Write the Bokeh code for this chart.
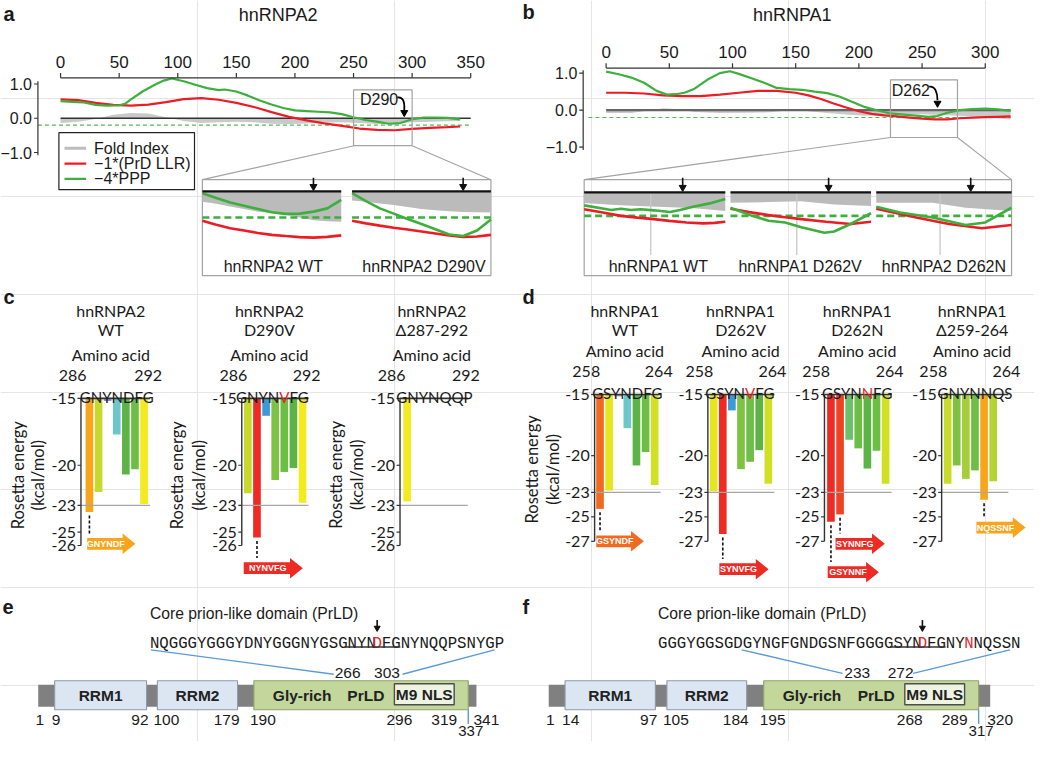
import numpy as np
from math import pi
from bokeh.plotting import figure
from bokeh.models import Range1d
from bokeh.core.properties import value
from bokeh.embed import file_html
from bokeh.resources import INLINE

# ============================ DATA ============================
# ---- a : hnRNPA2 whole-protein profiles (residue, score) ----
A2_XTICKS = [0, 50, 100, 150, 200, 250, 300, 350]
A2_FOLD_POS = [0, 15, 30, 45, 60, 75, 90, 105, 120, 135, 150, 165, 180, 195, 210, 225, 240, 255, 270, 285, 300, 315, 330, 341]
A2_FOLD_VAL = [-0.14, -0.10, -0.02, 0.10, 0.15, 0.14, 0.03, -0.08, -0.14, -0.12, -0.10, -0.12, -0.16, -0.17, -0.15, -0.13, -0.12, -0.14, -0.17, -0.16, -0.12, -0.10, -0.09, -0.08]
A2_LLR_POS = [0, 15, 30, 45, 60, 75, 90, 105, 120, 135, 150, 165, 180, 195, 210, 225, 240, 255, 270, 285, 300, 315, 330, 341]
A2_LLR_VAL = [0.55, 0.53, 0.45, 0.39, 0.37, 0.40, 0.47, 0.56, 0.59, 0.54, 0.45, 0.33, 0.18, 0.04, -0.06, -0.15, -0.22, -0.30, -0.34, -0.35, -0.31, -0.28, -0.26, -0.24]
A2_PPP_POS = [0, 10, 20, 30, 40, 50, 55, 60, 70, 80, 88, 95, 105, 115, 125, 135, 140, 150, 160, 170, 180, 190, 200, 210, 220, 230, 240, 250, 260, 270, 280, 290, 300, 310, 320, 330, 341]
A2_PPP_VAL = [0.50, 0.48, 0.46, 0.39, 0.37, 0.38, 0.42, 0.55, 0.78, 0.97, 1.10, 1.16, 1.08, 0.98, 0.88, 0.82, 0.84, 0.78, 0.66, 0.52, 0.40, 0.30, 0.23, 0.21, 0.19, 0.17, 0.12, 0.03, -0.05, -0.10, -0.16, -0.14, -0.03, 0.02, 0.02, 0.01, -0.03]

# ---- b : hnRNPA1 whole-protein profiles ----
A1_XTICKS = [0, 50, 100, 150, 200, 250, 300]
A1_FOLD_POS = [0, 20, 35, 45, 55, 70, 90, 110, 130, 150, 160, 175, 190, 205, 220, 235, 250, 265, 280, 295, 310, 320]
A1_FOLD_VAL = [-0.08, -0.08, 0.0, 0.05, 0.03, -0.05, -0.08, -0.07, -0.06, 0.02, -0.03, -0.08, -0.12, -0.15, -0.14, -0.12, -0.11, -0.13, -0.15, -0.18, -0.22, -0.25]
A1_LLR_POS = [0, 15, 30, 45, 60, 75, 90, 105, 120, 135, 150, 160, 170, 180, 190, 200, 210, 220, 230, 240, 250, 260, 270, 280, 290, 300, 310, 320]
A1_LLR_VAL = [0.47, 0.47, 0.45, 0.40, 0.38, 0.38, 0.42, 0.47, 0.52, 0.52, 0.47, 0.40, 0.30, 0.18, 0.07, -0.03, -0.10, -0.14, -0.17, -0.20, -0.23, -0.25, -0.25, -0.22, -0.20, -0.19, -0.18, -0.17]
A1_PPP_POS = [0, 10, 20, 30, 40, 48, 55, 62, 70, 80, 90, 98, 105, 115, 125, 135, 145, 155, 165, 175, 185, 195, 205, 215, 225, 235, 245, 255, 262, 270, 280, 290, 300, 310, 320]
A1_PPP_VAL = [1.04, 0.97, 0.88, 0.74, 0.52, 0.42, 0.43, 0.47, 0.58, 0.82, 1.00, 1.05, 0.98, 0.86, 0.74, 0.60, 0.57, 0.55, 0.50, 0.46, 0.36, 0.22, 0.08, -0.01, -0.09, -0.12, -0.15, -0.18, -0.16, -0.07, 0.00, 0.03, 0.04, 0.02, -0.02]

Y_TICKS = [1.0, 0.0, -1.0]
Y_TICK_LABELS = ["1.0", "0.0", "\u22121.0"]
PPP_THRESHOLD = -0.2

# ---- a insets (zoom of residues 250-300) ----
A2_INSET_POS = [250, 255, 260, 265, 270, 275, 280, 285, 290, 295, 300]
A2_WT_FOLD = [-0.08, -0.095, -0.115, -0.135, -0.155, -0.165, -0.18, -0.20, -0.22, -0.228, -0.232]
A2_WT_LLR = [-0.225, -0.255, -0.282, -0.30, -0.318, -0.333, -0.342, -0.35, -0.354, -0.348, -0.337]
A2_WT_PPP = [-0.015, -0.05, -0.085, -0.11, -0.135, -0.16, -0.172, -0.17, -0.155, -0.13, -0.065]
A2_D290V_FOLD = [-0.07, -0.08, -0.092, -0.105, -0.12, -0.135, -0.145, -0.152, -0.157, -0.16, -0.162]
A2_D290V_LLR = [-0.225, -0.245, -0.262, -0.278, -0.292, -0.307, -0.322, -0.338, -0.348, -0.345, -0.333]
A2_D290V_PPP = [-0.013, -0.075, -0.13, -0.17, -0.212, -0.25, -0.29, -0.33, -0.342, -0.30, -0.215]

# ---- b insets (zoom of residues 225-278) ----
A1_WT_FOLD_POS = [225, 235, 245, 255, 265, 272, 278]
A1_WT_FOLD = [-0.09, -0.105, -0.117, -0.124, -0.134, -0.146, -0.158]
A1_WT_LLR_POS = [225, 232, 238.8, 245, 251.1, 257, 263.5, 269.6, 274, 278]
A1_WT_LLR = [-0.144, -0.172, -0.2, -0.215, -0.228, -0.243, -0.256, -0.264, -0.26, -0.25]
A1_WT_PPP_POS = [225, 230.2, 235.1, 238.8, 242.5, 246.2, 251.1, 257.3, 261, 265.9, 272.1, 278]
A1_WT_PPP = [-0.111, -0.131, -0.15, -0.139, -0.15, -0.144, -0.153, -0.167, -0.15, -0.122, -0.094, -0.056]
A1_V_FOLD_POS = [225, 239.4, 251.7, 264.1, 278]
A1_V_FOLD = [-0.089, -0.083, -0.075, -0.103, -0.117]
A1_V_LLR_POS = [225, 232, 239.4, 245.6, 251.7, 261, 270.3, 278]
A1_V_LLR = [-0.139, -0.168, -0.194, -0.212, -0.228, -0.25, -0.269, -0.25]
A1_V_PPP_POS = [225, 233.2, 239.4, 245.6, 251.7, 260.4, 264.1, 270.3, 278]
A1_V_PPP = [-0.131, -0.2, -0.242, -0.256, -0.297, -0.344, -0.333, -0.269, -0.178]
A1_N_FOLD_POS = [225, 247.1, 260, 278]
A1_N_FOLD = [-0.089, -0.089, -0.131, -0.158]
A1_N_LLR_POS = [225, 240.7, 253.5, 266.4, 278]
A1_N_LLR = [-0.139, -0.214, -0.269, -0.306, -0.278]
A1_N_PPP_POS = [225, 234.3, 247.1, 260, 267.7, 278]
A1_N_PPP = [-0.122, -0.172, -0.214, -0.278, -0.256, -0.131]

# ---- c / d : Rosetta energies (kcal/mol), one value per hexapeptide start ----
C_TICKS = [-15, -20, -23, -25, -26]
C_TICK_LABELS = ["-15", "-20", "-23", "-25", "-26"]
D_TICKS = [-15, -20, -23, -25, -27]
D_TICK_LABELS = ["-15", "-20", "-23", "-25", "-27"]
ZIPPER_THRESHOLD = -23
C_RANGE = ("286", "292")
D_RANGE = ("258", "264")
C_WT_VALUES = [-23.5, -22.0, -15.2, -17.7, -20.7, -20.3, -22.9]
C_D290V_VALUES = [-22.1, -25.4, -16.3, -21.1, -20.5, -20.2, -22.8]
C_DEL_VALUES = [-22.7]
D_WT_VALUES = [-24.35, -22.85, -15.15, -17.75, -20.8, -19.7, -22.4]
D_D262V_VALUES = [-22.9, -26.4, -16.3, -21.1, -20.5, -19.55, -22.3]
D_D262N_VALUES = [-25.4, -24.8, -18.7, -19.4, -21.05, -19.6, -22.3]
D_DEL_VALUES = [-22.3, -20.8, -21.9, -21.2, -23.6, -22.1]

# ---- e / f : domain architecture (residue numbers) ----
E_LENGTH, E_RRM1, E_RRM2, E_GLY, E_M9 = 341, (9, 92), (100, 179), (190, 337), (296, 319)
E_CORE = ("266", "303")
E_SEQ = "NQGGGYGGGYDNYGGGNYGSGNYNDFGNYNQQPSNYGP"
E_SEQ_RED = [24]
E_SEQ_UNDER = (21, 27)
F_LENGTH, F_RRM1, F_RRM2, F_GLY, F_M9 = 320, (14, 97), (105, 184), (195, 317), (268, 289)
F_CORE = ("233", "272")
F_SEQ = "GGGYGGSGDGYNGFGNDGSNFGGGGSYNDFGNYNNQSSN"
F_SEQ_RED = [28, 33]
F_SEQ_UNDER = (25, 31)

# ============================ STYLE ============================
ARIAL = "Liberation Sans"
CAL = "Lato"
MONO = "Liberation Mono"
RED = "#EC1C24"
GREEN = "#3CAF3C"
TXT = "#1a1a1a"
ORANGE = "#F8A51B"
YGREEN = "#C7D92C"
LAV = "#8E8FD0"
CYAN = "#6DC6C7"
GR1, GR2, GR3 = "#7FC241", "#6CBE45", "#5DB446"
YELLOW = "#F3EA1F"
REDB = "#ED2A24"
BLUE = "#3C9AD6"
ORRED = "#F26A22"
YEL2 = "#E6E61E"
YG2 = "#D2E024"
LINKBLUE = "#5B9BD5"

C_WT_COLORS = [ORANGE, YGREEN, LAV, CYAN, GR3, GR2, YELLOW]
C_D290V_COLORS = [YGREEN, REDB, BLUE, GR1, GR2, GR3, YELLOW]
C_DEL_COLORS = [YELLOW]
D_WT_COLORS = [ORRED, YEL2, LAV, CYAN, GR3, GR2, YG2]
D_D262V_COLORS = [YEL2, REDB, BLUE, GR1, GR2, GR3, YG2]
D_D262N_COLORS = [REDB, "#EF4123", "#6CC06A", GR2, GR3, GR2, YG2]
D_DEL_COLORS = ["#C9DB2A", GR1, "#A6CE39", GR2, ORANGE, "#B5D334"]

# ============================ FIGURE ============================
p = figure(width=1034, height=741, x_range=Range1d(0, 1050), y_range=Range1d(757, 0),
           x_axis_location=None, y_axis_location=None, toolbar_location=None,
           output_backend="svg", min_border=0)
p.outline_line_color = None
p.background_fill_color = "white"
p.border_fill_color = "white"

PX = (0, 1000)


def sub(xs, xt, ys, yt):
    return p.subplot(x_source=Range1d(*xs), x_target=Range1d(*xt),
                     y_source=Range1d(*ys), y_target=Range1d(*yt))


def _l(v):
    return list(v) if isinstance(v, (list, tuple, np.ndarray)) else [v]


def _b(*vals):
    ls = [_l(v) for v in vals]
    n = max(len(l) for l in ls)
    return [l * n if len(l) == 1 else l for l in ls]


def txt(r, x, y, s, size, font=ARIAL, color=TXT, align="center", baseline="middle",
        style="normal", angle=0.0, xo=0.0, yo=0.0):
    xs, ys, ss = _b(x, y, s)
    r.text(x=xs, y=ys, text=ss, text_font=value(font), text_font_size=f"{size}px",
           text_color=color, text_align=align, text_baseline=baseline,
           text_font_style=style, angle=angle, x_offset=xo, y_offset=yo)


def seg(r, x0, y0, x1, y1, color="#333333", width=1.0, dash="solid"):
    a, b, c, d = _b(x0, y0, x1, y1)
    r.segment(x0=a, y0=b, x1=c, y1=d, line_color=color, line_width=width, line_dash=dash)


# ---------------------------- panels a / b ----------------------------
def profile(xmax, xt, yt, ticks, axis_y, yaxis_x, zero_end, dash_px, fold, llr, ppp, box, zc, zw):
    m = sub((0, xmax), xt, (-1, 1), yt)
    xa = sub((0, xmax), xt, PX, PX)
    ya = sub(PX, PX, (-1, 1), yt)
    m.varea(x=fold[0], y1=0, y2=fold[1], fill_color="#C9C9C9")
    seg(m, 0, 0, zero_end, 0, zc, zw)
    seg(ya, dash_px[0], PPP_THRESHOLD, dash_px[1], PPP_THRESHOLD, "#55B955", 1.1, "4 3")
    m.line(x=llr[0], y=llr[1], line_color=RED, line_width=2.2)
    m.line(x=ppp[0], y=ppp[1], line_color=GREEN, line_width=2.2)
    seg(xa, 0, axis_y, xmax, axis_y, "#333333", 1.2)
    seg(xa, ticks, axis_y, ticks, axis_y - 5, "#333333", 1.2)
    txt(xa, ticks, axis_y - 16, [str(t) for t in ticks], 17)
    seg(ya, yaxis_x, 1.08, yaxis_x, -1.08, "#333333", 1.2)
    seg(ya, yaxis_x - 4, Y_TICKS, yaxis_x, Y_TICKS, "#333333", 1.2)
    txt(ya, yaxis_x - 6, Y_TICKS, Y_TICK_LABELS, 16, align="right")
    m.quad(left=[box[0]], right=[box[1]], bottom=[box[2]], top=[box[3]],
           fill_color=None, line_color="#A3A3A3", line_width=1.2)


def inset(xs, xt, yt, fold, llr, ppp, mark, stem, head, vline=None):
    s = sub(xs, xt, (-0.6, 0), yt)
    s.varea(x=fold[0], y1=0, y2=fold[1], fill_color="#BBBBBB")
    if vline is not None:
        seg(s, vline[0], 0, vline[0], vline[1], "#C8C8C8", 1.3)
    seg(s, xs[0], PPP_THRESHOLD, xs[1], PPP_THRESHOLD, GREEN, 2.6, "7 4")
    s.line(x=llr[0], y=llr[1], line_color=RED, line_width=2.6)
    s.line(x=ppp[0], y=ppp[1], line_color=GREEN, line_width=2.6)
    seg(s, xs[0], 0, xs[1], 0, "#111111", 2.2)
    seg(s, mark, stem, mark, head, "#111111", 1.6)
    s.scatter(x=[mark], y=[head], marker="inverted_triangle", size=7,
              fill_color="#111111", line_color="#111111")


txt(p, 3, 13.5, "a", 20, style="bold", align="left")
txt(p, 530, 12, "b", 20, style="bold", align="left")
txt(p, 282, 15, "hnRNPA2", 18)
txt(p, 804, 15, "hnRNPA1", 18)

profile(350, (61, 477.5), (155.3, 85.3), A2_XTICKS, 79, 38, 350, (38, 477.5),
        (A2_FOLD_POS, A2_FOLD_VAL), (A2_LLR_POS, A2_LLR_VAL), (A2_PPP_POS, A2_PPP_VAL),
        (250, 300, -0.8, 0.83), "#333333", 1.3)
profile(300, (615, 1000), (149.8, 74.2), A1_XTICKS, 69, 591.7, 320, (597, 1026),
        (A1_FOLD_POS, A1_FOLD_VAL), (A1_LLR_POS, A1_LLR_VAL), (A1_PPP_POS, A1_PPP_VAL),
        (225, 278, -0.74, 0.82), "#666666", 2.4)

# mutation call-outs
txt(p, 365, 101.5, "D290", 16, align="left")
p.bezier(x0=[403], y0=[99], x1=[410], y1=[112], cx0=[409], cy0=[98], cx1=[410.5], cy1=[104],
         line_color="black", line_width=1.8)
p.scatter(x=[410], y=[114.5], marker="inverted_triangle", size=7, fill_color="black", line_color="black")
txt(p, 905, 91.5, "D262", 16, align="left")
p.bezier(x0=[943], y0=[88], x1=[951.5], y1=[102], cx0=[949], cy0=[87], cx1=[951.5], cy1=[94],
         line_color="black", line_width=1.8)
p.scatter(x=[951.5], y=[105], marker="inverted_triangle", size=7, fill_color="black", line_color="black")

# legend (a)
p.quad(left=[59.3], right=[197], top=[135], bottom=[193.3], fill_color="white",
       line_color="#222222", line_width=1.2)
seg(p, 65, 151, 87, 151, "#BDBDBD", 3)
seg(p, 65, 166.7, 87, 166.7, RED, 2.2)
seg(p, 65, 182.3, 87, 182.3, GREEN, 2.2)
txt(p, 95, [151, 166.7, 182.3], ["Fold Index", "\u22121*(PrD LLR)", "\u22124*PPP"], 16, align="left")

# zoom connectors + inset frames
seg(p, [359, 418, 903.7, 971.8], [148.3, 148.3, 140, 140], [205, 498, 592.7, 1026.7],
    [183, 183, 183, 183], "#A3A3A3", 1.1)
p.quad(left=[205, 592.7], right=[498, 1026.7], top=[183, 183], bottom=[281, 281],
       fill_color=None, line_color="#A3A3A3", line_width=1.2)

A2_YT = (275.1, 195)
inset((250, 300), (205, 346), A2_YT, (A2_INSET_POS, A2_WT_FOLD), (A2_INSET_POS, A2_WT_LLR),
      (A2_INSET_POS, A2_WT_PPP), 290, 0.105, 0.037)
inset((250, 300), (357, 498), A2_YT, (A2_INSET_POS, A2_D290V_FOLD), (A2_INSET_POS, A2_D290V_LLR),
      (A2_INSET_POS, A2_D290V_PPP), 290, 0.105, 0.037)
A1_YT = (268, 196)
inset((225, 278), (592.7, 736), A1_YT, (A1_WT_FOLD_POS, A1_WT_FOLD), (A1_WT_LLR_POS, A1_WT_LLR),
      (A1_WT_PPP_POS, A1_WT_PPP), 262, 0.125, 0.042, vline=(250, -0.533))
inset((225, 278), (741.3, 884), A1_YT, (A1_V_FOLD_POS, A1_V_FOLD), (A1_V_LLR_POS, A1_V_LLR),
      (A1_V_PPP_POS, A1_V_PPP), 262, 0.125, 0.042, vline=(250, -0.533))
inset((225, 278), (889.3, 1026.7), A1_YT, (A1_N_FOLD_POS, A1_N_FOLD), (A1_N_LLR_POS, A1_N_LLR),
      (A1_N_PPP_POS, A1_N_PPP), 262, 0.125, 0.042, vline=(250, -0.533))
txt(p, [277, 430], 272, ["hnRNPA2 WT", "hnRNPA2 D290V"], 16)
txt(p, [668, 812, 958], 271.7, ["hnRNPA1 WT", "hnRNPA1 D262V", "hnRNPA2 D262N"], 16)

# ---------------------------- panels c / d ----------------------------
SEQ_SIZE = 15
LETTER_W = {"V": 0.68, "N": 0.75}


def energy(axis_x, off, ytop, ppu, ymin, ticks, tlabels, vals, cols, seq, red, rng, title, tx,
           amino_y, rng_y, ylab=None, arrows=()):
    sp = 9.25
    L = off + 6.5 * sp + 1.5
    ybot = ytop + (-15 - ymin) * ppu
    s = sub((0.5, 7.5), (axis_x + off - 0.5 * sp, axis_x + off + 6.5 * sp), (ymin, -15), (ybot, ytop))
    ya = sub(PX, PX, (ymin, -15), (ybot, ytop))
    s.vbar(x=list(range(1, len(vals) + 1)), bottom=vals, top=-15, width=0.84,
           fill_color=cols, line_color=None)
    seg(ya, axis_x, ZIPPER_THRESHOLD, axis_x + L, ZIPPER_THRESHOLD, "#A6A6A6", 1.4)
    seg(ya, axis_x, -15, axis_x + L, -15, "#333333", 1.6)
    seg(ya, axis_x, -15, axis_x, ymin, "#333333", 1.4)
    seg(ya, axis_x - 3.5, ticks, axis_x, ticks, "#333333", 1.2)
    txt(ya, axis_x - 5, ticks, tlabels, 16, font=CAL, align="right")
    if red is None:
        txt(s, 4, -15, seq, SEQ_SIZE, font=CAL, baseline="alphabetic", yo=-1.5)
    else:
        w = LETTER_W.get(seq[red], 0.7) * SEQ_SIZE
        u = red + 1
        txt(s, u, -15, seq[red], SEQ_SIZE, font=CAL, color="#E8262B", baseline="alphabetic", yo=-1.5)
        txt(s, u, -15, seq[:red], SEQ_SIZE, font=CAL, align="right", baseline="alphabetic",
            xo=-w / 2, yo=-1.5)
        txt(s, u, -15, seq[red + 1:], SEQ_SIZE, font=CAL, align="left", baseline="alphabetic",
            xo=w / 2, yo=-1.5)
    txt(p, axis_x - 8.5, rng_y, rng[0], 16, font=CAL)
    txt(p, axis_x + L - 2, rng_y, rng[1], 16, font=CAL)
    txt(p, tx, 317, title[0], 16, font=CAL)
    txt(p, tx, 336, title[1], 16, font=CAL)
    txt(p, tx, amino_y, "Amino acid", 16, font=CAL)
    if ylab is not None:
        txt(p, ylab[0], ylab[2], "Rosetta energy", 16.5, font=CAL, angle=pi / 2)
        txt(p, ylab[1], ylab[2], "(kcal/mol)", 16.5, font=CAL, angle=pi / 2)
    hh, hb, hl = 10.5, 6.0, 13
    for (x0, x1, yc, col, label, bar) in arrows:
        p.patch(x=[x0, x1 - hl, x1 - hl, x1, x1 - hl, x1 - hl, x0],
                y=[yc - hb, yc - hb, yc - hh, yc, yc + hh, yc + hb, yc + hb],
                fill_color=col, line_color=None)
        txt(p, (x0 + x1 - hl) / 2 + 1, yc, label, 9, color="white", style="bold")
        top_e = -15 - ((yc - hh) - ytop) / ppu
        seg(s, bar, vals[bar - 1] - 3.5 / ppu, bar, top_e, "#111111", 1.6, "3 2")


txt(p, 3, 303, "c", 20, style="bold", align="left")
txt(p, 530, 303, "d", 20, style="bold", align="left")

CY, CP = 406.5, 13.66
energy(81.7, 8.6, CY, CP, -26, C_TICKS, C_TICK_LABELS, C_WT_VALUES, C_WT_COLORS, "GNYNDFG", None,
       C_RANGE, ("hnRNPA2", "WT"), 112, 362, 383, ylab=(18, 38, 485),
       arrows=[(88, 137, 555, ORANGE, "GNYNDF", 1)])
energy(245, 6.2, CY, CP, -26, C_TICKS, C_TICK_LABELS, C_D290V_VALUES, C_D290V_COLORS, "GNYNVFG", 4,
       C_RANGE, ("hnRNPA2", "D290V"), 273, 362, 383, ylab=(179, 202, 485),
       arrows=[(247, 307, 580, REDB, "NYNVFG", 2)])
energy(405.7, 7.2, CY, CP, -26, C_TICKS, C_TICK_LABELS, C_DEL_VALUES, C_DEL_COLORS, "GNYNQQP", None,
       C_RANGE, ("hnRNPA2", "\u0394287-292"), 438, 362, 383, ylab=(341, 362, 484.5))

DY, DP = 402.5, 12.5
energy(603.3, 5.5, DY, DP, -27, D_TICKS, D_TICK_LABELS, D_WT_VALUES, D_WT_COLORS, "GSYNDFG", None,
       D_RANGE, ("hnRNPA1", "WT"), 634, 357.7, 378.5, ylab=(539.5, 561, 479),
       arrows=[(605, 653.3, 552.5, ORRED, "GSYNDF", 1)])
energy(718.3, 5.9, DY, DP, -27, D_TICKS, D_TICK_LABELS, D_D262V_VALUES, D_D262V_COLORS, "GSYNVFG", 4,
       D_RANGE, ("hnRNPA1", "D262V"), 751.5, 357.7, 378.5,
       arrows=[(730, 780, 581, REDB, "SYNVFG", 2)])
energy(836.7, 6.6, DY, DP, -27, D_TICKS, D_TICK_LABELS, D_D262N_VALUES, D_D262N_COLORS, "GSYNNFG", 4,
       D_RANGE, ("hnRNPA1", "D262N"), 870, 357.7, 378.5,
       arrows=[(848, 898, 555, REDB, "SYNNFG", 2), (840, 892, 584, REDB, "GSYNNF", 1)])
energy(955.7, 6.1, DY, DP, -27, D_TICKS, D_TICK_LABELS, D_DEL_VALUES, D_DEL_COLORS, "GNYNNQS", None,
       D_RANGE, ("hnRNPA1", "\u0394259-264"), 986.7, 357.7, 378.5,
       arrows=[(991, 1041, 538.5, ORANGE, "NQSSNF", 5)])

# ---------------------------- panels e / f ----------------------------
CW = 0.6 * 15.7


def domain_panel(letter, letter_x, length, rrm1, rrm2, gly, m9, knot_px, seq, seq_x, reds, under,
                 core, core_px, conns):
    # schematic (not-to-scale) placement of domain boundaries
    knot_res = [1, rrm1[0], rrm1[1], rrm2[0], rrm2[1], gly[0], m9[0], m9[1], gly[1], length]

    def X(r):
        return float(np.interp(r, knot_res, knot_px))

    txt(p, letter_x, 619.5, letter, 20, style="bold", align="left")
    txt(p, seq_x, 626.7, "Core prion-like domain (PrLD)", 15.7, align="left")
    # sequence, with red residues
    cuts = sorted(set([0, len(seq)] + reds + [r + 1 for r in reds]))
    for a, b in zip(cuts[:-1], cuts[1:]):
        txt(p, seq_x + a * CW, 657.5, seq[a:b], 15.7, font=MONO,
            color="#E8262B" if a in reds else TXT, align="left", baseline="alphabetic")
    seg(p, seq_x + under[0] * CW, 660.5, seq_x + under[1] * CW, 660.5, "#333333", 1.6)
    ax = seq_x + (reds[0] + 0.5) * CW
    seg(p, ax, 633, ax, 640, "#111111", 1.6)
    p.scatter(x=[ax], y=[641], marker="inverted_triangle", size=6, fill_color="#111111", line_color="#111111")
    # connectors to core boundaries
    for (x0, y0, x1, y1) in conns:
        seg(p, x0, y0, x1, y1, LINKBLUE, 1.3)
    txt(p, core_px[0], 687.5, core[0], 15.5)
    txt(p, core_px[1], 687.5, core[1], 15.5)
    # backbone + domains
    p.quad(left=[X(1)], right=[X(length)], top=[699], bottom=[721.5], fill_color="#808080", line_color=None)
    p.quad(left=[X(rrm1[0]), X(rrm2[0])], right=[X(rrm1[1]), X(rrm2[1])], top=[695, 695],
           bottom=[724.5, 724.5], fill_color="#DCE6F2", line_color="#8E9AAA", line_width=1.1)
    p.quad(left=[X(gly[0])], right=[X(gly[1])], top=[695], bottom=[724.5], fill_color="#C3D69B",
           line_color="#8FA36A", line_width=1.1)
    p.quad(left=[X(m9[0])], right=[X(m9[1])], top=[698], bottom=[719.5], fill_color="#EEF3E2",
           line_color="#4D4D4D", line_width=1.4)
    txt(p, [(X(rrm1[0]) + X(rrm1[1])) / 2, (X(rrm2[0]) + X(rrm2[1])) / 2], 710, ["RRM1", "RRM2"],
        15.5, color="#222222", style="bold")
    txt(p, X(gly[0]) + 49, 710, "Gly-rich", 15.5, color="#222222", style="bold")
    txt(p, X(m9[0]) - 29, 710, "PrLD", 15.5, color="#222222", style="bold")
    txt(p, (X(m9[0]) + X(m9[1])) / 2, 709, "M9 NLS", 15.5, color="#222222", style="bold")
    # residue numbers
    marks = [(1, "center", 1.7), (rrm1[0], "left", -3), (rrm1[1], "right", 2), (rrm2[0], "left", -4),
             (rrm2[1], "right", 2), (gly[0], "left", -4), (m9[0], "center", 5), (m9[1], "right", 3),
             (length, "left", -3)]
    for r, al, off in marks:
        txt(p, X(r) + off, 735, str(r), 15.5, align=al)
    seg(p, X(gly[1]), 724.5, X(gly[1]), 739, LINKBLUE, 1.4)
    txt(p, X(gly[1]) + 2.5, 746.5, str(gly[1]), 15)


domain_panel("e", 2, E_LENGTH, E_RRM1, E_RRM2, E_GLY, E_M9,
             [38.3, 55, 148.3, 159.3, 240.7, 257.3, 400, 460.7, 475, 483.3],
             E_SEQ, 151.7, E_SEQ_RED, E_SEQ_UNDER, E_CORE, (352.5, 392.5),
             [(152.7, 663.3, 338.3, 688.3), (501.7, 663.3, 408.3, 688.3)])
domain_panel("f", 530, F_LENGTH, F_RRM1, F_RRM2, F_GLY, F_M9,
             [556.7, 573.3, 665, 676.7, 757.7, 775, 918.3, 979, 993.3, 1005],
             F_SEQ, 667.7, F_SEQ_RED, F_SEQ_UNDER, F_CORE, (870, 914),
             [(752.7, 663.3, 855, 687.3), (1025, 663.3, 926.7, 687.3)])

open("out.html", "w").write(file_html(p, INLINE, title="hnRNPA2 / hnRNPA1 prion-like domains"))
